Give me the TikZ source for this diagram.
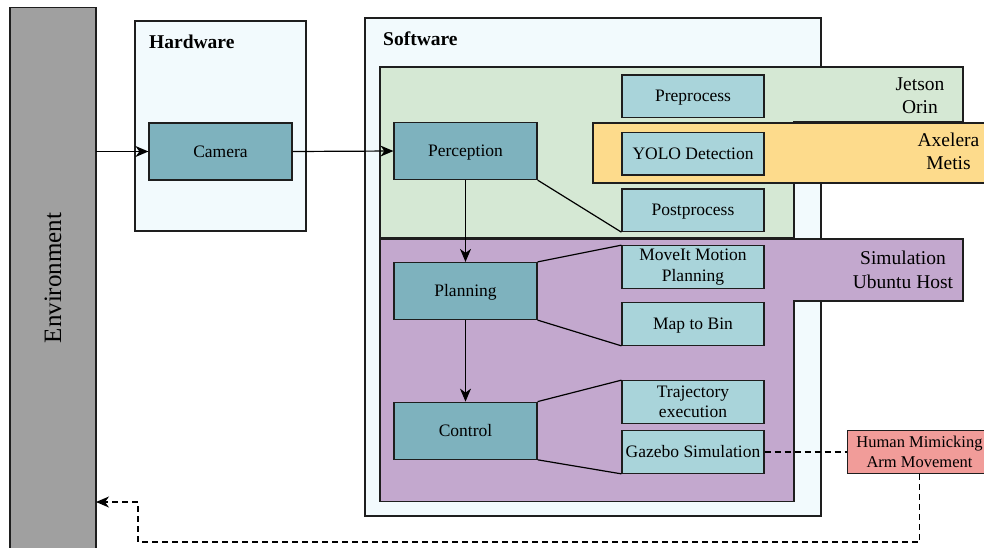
\documentclass[tikz,border=0pt]{standalone}
\usepackage{fontspec}
\setmainfont{Liberation Serif}
\usetikzlibrary{arrows.meta}

\definecolor{envgray}{RGB}{160,160,160}
\definecolor{panelblue}{RGB}{242,250,253}
\definecolor{tealbox}{RGB}{126,178,190}
\definecolor{subbox}{RGB}{169,212,218}
\definecolor{jetgreen}{RGB}{213,232,212}
\definecolor{axyellow}{RGB}{253,219,140}
\definecolor{simpurple}{RGB}{195,168,206}
\definecolor{salmon}{RGB}{241,156,153}
\definecolor{edge}{RGB}{30,30,30}

\tikzset{
  outline/.style={draw=edge, line width=1.2pt},
  oneline/.style={text height=13pt, text depth=2pt},
  mainbox/.style={outline, fill=tealbox, minimum width=143pt, minimum height=57pt,
    inner sep=0pt, oneline, font=\fontsize{17.5}{20}\selectfont},
  subbox/.style={outline, fill=subbox, minimum width=142pt, minimum height=42.5pt,
    inner sep=0pt, align=center, font=\fontsize{17.5}{20.5}\selectfont},
  grouplabel/.style={align=center, inner sep=0pt, font=\fontsize{19.5}{23.5}\selectfont},
  header/.style={anchor=base west, inner sep=0pt, font=\fontsize{19.5}{23}\selectfont\bfseries},
  link/.style={draw=black, line width=1.2pt},
  tip/.style={-{Stealth[length=13pt,width=11pt,inset=4pt]}},
  arr/.style={link, tip},
  dashlink/.style={link, dash pattern=on 6pt off 4pt},
}

\begin{document}
\begin{tikzpicture}[x=1pt, y=-1pt]
\clip (0,0) rectangle (984,547);
\fill[white] (0,0) rectangle (984,547);

% environment column on the left
\draw[outline, fill=envgray] (10,7.5) rectangle (96,560);
\node[rotate=90, inner sep=0pt, font=\fontsize{25}{30}\selectfont] (env) at (53,278) {Environment};
\coordinate (envedge) at (96,277);

% hardware and software panels
\draw[outline, fill=panelblue] (135,21) rectangle (306,231);
\node[header] (hwlabel) at (149,48) {Hardware};
\draw[outline, fill=panelblue] (365,18) rectangle (821,516);
\node[header] (swlabel) at (383,45) {Software};

% Jetson Orin region
\draw[outline, fill=jetgreen] (380,67) -- (963,67) -- (963,122) -- (794,122)
  -- (794,237.5) -- (380,237.5) -- cycle;
\node[grouplabel] (jetson) at (920,95.5) {Jetson\\Orin};

% Axelera Metis region
\draw[outline, fill=axyellow] (593,123) rectangle (1000,183);
\node[grouplabel] (axelera) at (948.5,151.5) {Axelera\\Metis};

% simulation host region
\draw[outline, fill=simpurple] (380,239) -- (963,239) -- (963,301) -- (794,301)
  -- (794,501.5) -- (380,501.5) -- cycle;
\node[grouplabel] (sim) at (903,270) {Simulation\\Ubuntu Host};

% main stages
\node[mainbox] (camera) at (220.5,151.5) {Camera};
\node[mainbox] (perception) at (465.5,151) {Perception};
\node[mainbox] (planning) at (465.5,291) {Planning};
\node[mainbox] (control) at (465.5,430.7) {Control};

% sub-steps
\node[subbox, oneline] (pre) at (693,96.3) {Preprocess};
\node[subbox, oneline] (yolo) at (693,153.7) {YOLO Detection};
\node[subbox, oneline] (post) at (693,210.3) {Postprocess};
\node[subbox] (moveit) at (693,267) {MoveIt Motion\\Planning};
\node[subbox, oneline] (bin) at (693,324) {Map to Bin};
\node[subbox] (traj) at (693,402) {Trajectory\\execution};
\node[subbox, oneline] (gazebo) at (693,452) {Gazebo Simulation};

\node[outline, fill=salmon, minimum width=144pt, minimum height=42.6pt, inner sep=0pt,
  align=center, font=\fontsize{16.5}{20.5}\selectfont] (human) at (919.5,452)
  {Human Mimicking\\Arm Movement};

% data flow
\draw[arr] (camera.west -| envedge) -- (camera.west);
\draw[arr] (camera.east) -- (perception.west);
\draw[arr] (perception.south) -- (planning.north);
\draw[arr] (planning.south) -- (control.north);

% stage-to-step brackets
\draw[link] (perception.south east) -- (post.south west);
\draw[link] (planning.north east) -- (moveit.north west);
\draw[link] (planning.south east) -- (bin.south west);
\draw[link] (control.north east) -- (traj.north west);
\draw[link] (control.south east) -- (gazebo.south west);

% feedback to the environment
\coordinate (fbA) at (138,542);
\coordinate (fbB) at (138,502);
\draw[dashlink] (gazebo.east) -- (human.west);
\draw[dashlink, tip]
  (human.south) |- (fbA) -- (fbB) -- (fbB -| envedge);
\end{tikzpicture}
\end{document}
